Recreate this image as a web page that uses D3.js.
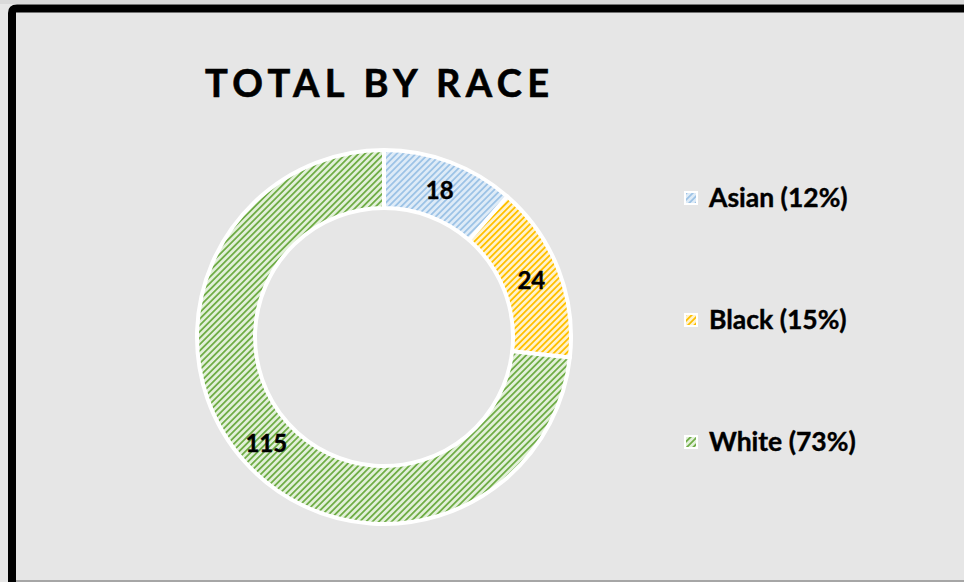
<!DOCTYPE html>
<html>
<head>
<meta charset="utf-8">
<script src="https://cdn.jsdelivr.net/npm/d3@7"></script>
<style>
  html, body { margin: 0; padding: 0; background: #d9d9d9; }
  svg { display: block; }
</style>
</head>
<body>
<svg id="chart" width="964" height="582"></svg>
<script>
const title = "TOTAL BY RACE";
const categories = ["Asian", "Black", "White"];
const values = [18, 24, 115];
const legendLabels = ["Asian (12%)", "Black (15%)", "White (73%)"];
const fgColors = ["#9dc3e6", "#ffc000", "#70ad47"];
const bgColors = ["#deebf7", "#fff2cc", "#e2f0d9"];

const svg = d3.select("#chart");
const W = 964, H = 582;
const font = "Lato, 'Open Sans', sans-serif";

// chart area background
svg.append("rect").attr("x", 0).attr("y", 4).attr("width", W).attr("height", H - 4).attr("fill", "#e6e6e6");
// bottom gray line
svg.append("rect").attr("x", 8).attr("y", 580).attr("width", W).attr("height", 2).attr("fill", "#a6a6a6");
// black frame (top + left)
svg.append("path")
  .attr("d", "M12,582 L12,13 Q12,8.5 17,8.5 L970,8.5")
  .attr("fill", "none").attr("stroke", "#000").attr("stroke-width", 8);

// patterns
const defs = svg.append("defs");
categories.forEach((c, i) => {
  const p = defs.append("pattern")
    .attr("id", "pat" + i)
    .attr("patternUnits", "userSpaceOnUse")
    .attr("width", 4.5).attr("height", 4.5)
    .attr("patternTransform", "rotate(45)");
  p.append("rect").attr("width", 4.5).attr("height", 4.5).attr("fill", bgColors[i]);
  p.append("rect").attr("x", 0).attr("y", 0).attr("width", 1.8).attr("height", 4.5).attr("fill", fgColors[i]);
});

// title
svg.append("text")
  .attr("x", 205).attr("y", 97)
  .attr("font-family", font).attr("font-weight", 700)
  .attr("font-size", 38).attr("letter-spacing", 5.4)
  .attr("stroke", "#000").attr("stroke-width", 0.6)
  .attr("fill", "#000")
  .text(title);

// donut
const cx = 384, cy = 337, rOuter = 187, rInner = 129;
const pie = d3.pie().sort(null).value(d => d);
const arc = d3.arc().innerRadius(rInner).outerRadius(rOuter);
const g = svg.append("g").attr("transform", `translate(${cx},${cy})`);
const arcs = pie(values);
g.selectAll("path.slice").data(arcs).join("path")
  .attr("class", "slice")
  .attr("d", arc)
  .attr("fill", (d, i) => `url(#pat${i})`)
  .attr("stroke", "#fff").attr("stroke-width", 4).attr("stroke-linejoin", "round");

g.selectAll("text.lbl").data(arcs).join("text")
  .attr("class", "lbl")
  .attr("transform", d => { const c = arc.centroid(d); return `translate(${c[0]},${c[1]})`; })
  .attr("text-anchor", "middle").attr("dominant-baseline", "central")
  .attr("font-family", font).attr("font-weight", 700).attr("font-size", 24)
  .attr("stroke", "#000").attr("stroke-width", 0.4)
  .attr("fill", "#000")
  .text(d => d.value);

// legend
const legend = svg.append("g");
const ly = d3.scalePoint().domain(categories).range([198, 442]);
categories.forEach((c, i) => {
  const y = ly(c);
  legend.append("rect")
    .attr("x", 685).attr("y", y - 6).attr("width", 12).attr("height", 12)
    .attr("fill", `url(#pat${i})`).attr("stroke", "#fff").attr("stroke-width", 2);
  legend.append("text")
    .attr("x", 709).attr("y", y + 9)
    .attr("font-family", font).attr("font-weight", 700).attr("font-size", 26.5)
    .attr("stroke", "#000").attr("stroke-width", 0.4)
    .attr("fill", "#000")
    .text(legendLabels[i]);
});
</script>
</body>
</html>
